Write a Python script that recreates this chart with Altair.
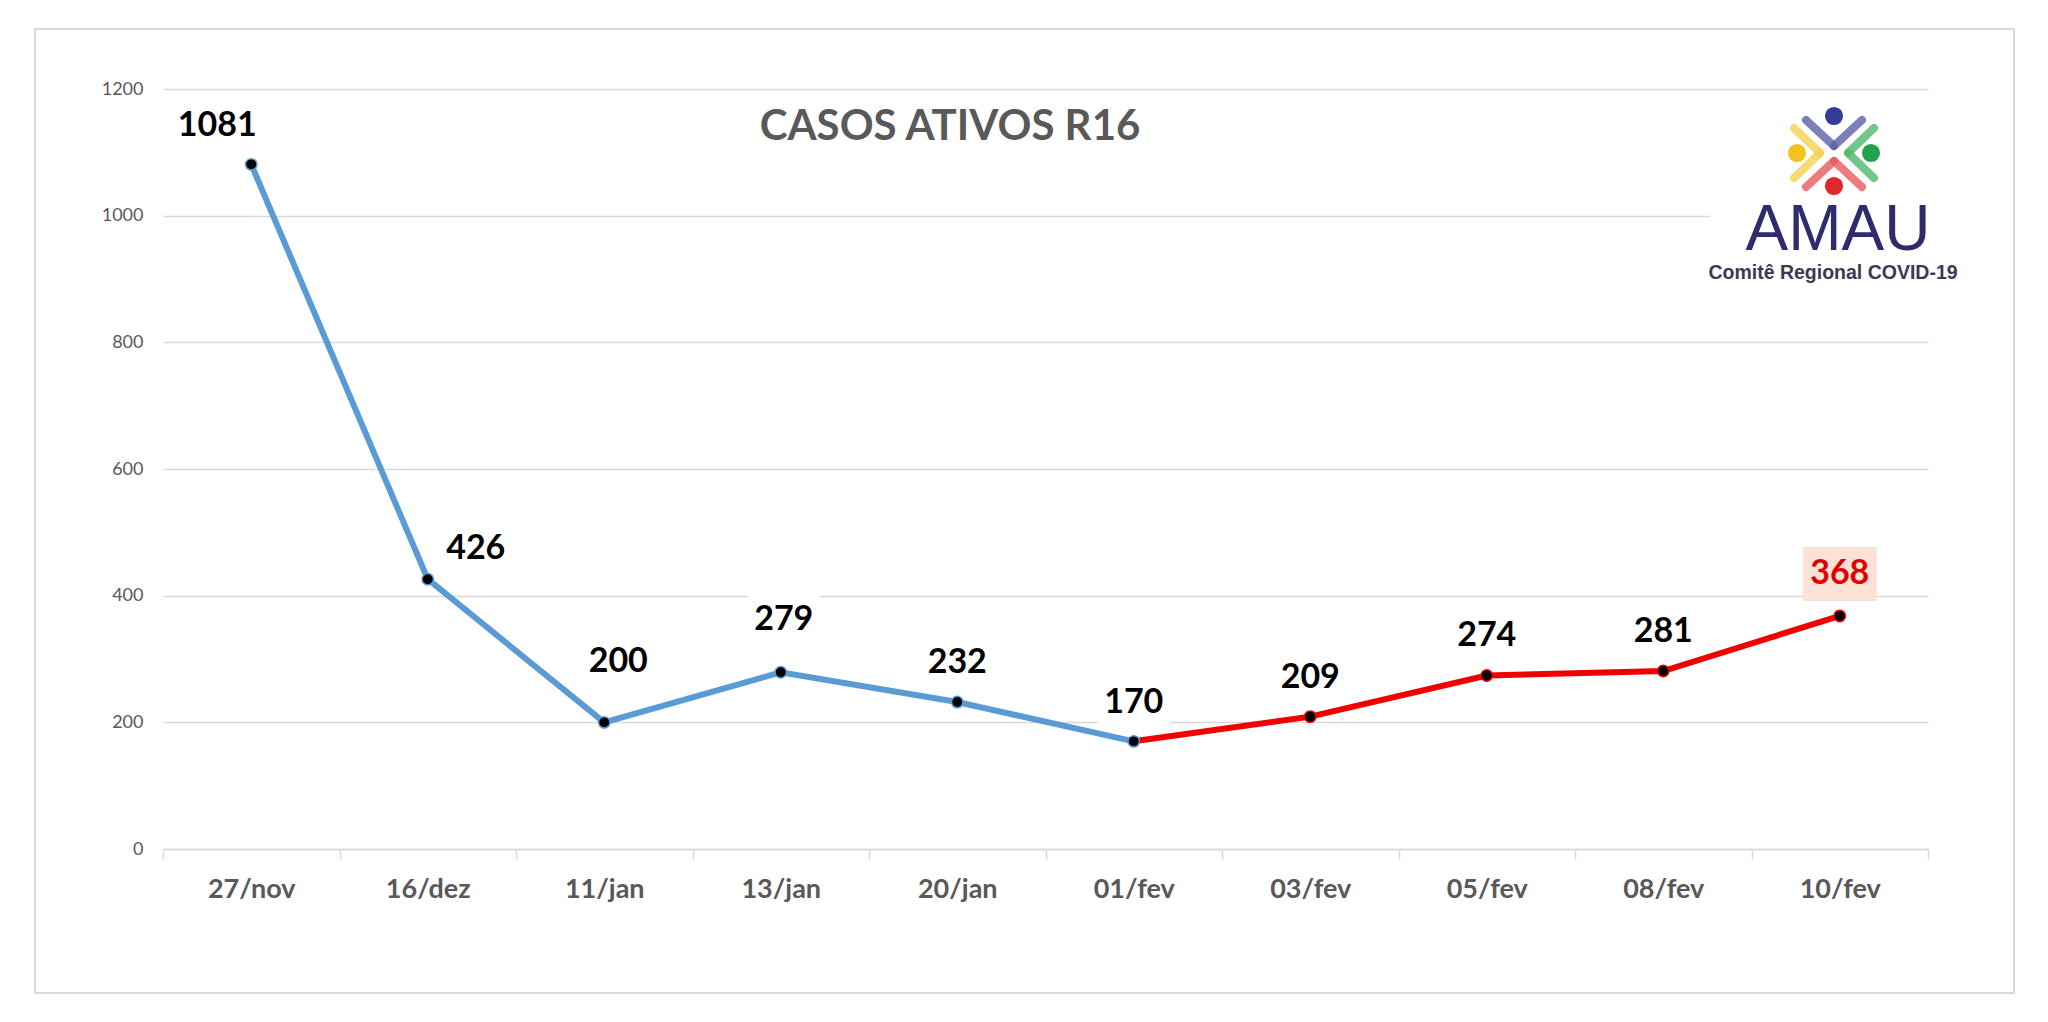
import altair as alt
import pandas as pd

# ---- data ----
dates = ["27/nov", "16/dez", "11/jan", "13/jan", "20/jan",
         "01/fev", "03/fev", "05/fev", "08/fev", "10/fev"]
values = [1081, 426, 200, 279, 232, 170, 209, 274, 281, 368]
y_ticks = [0, 200, 400, 600, 800, 1000, 1200]

df = pd.DataFrame({"data": dates, "casos": values, "idx": list(range(len(dates)))})
split = 5  # 01/fev: blue up to here, red from here

GRAY = "#595959"
GRID = "#D9D9D9"
BLUE = "#5B9BD5"
RED = "#F00000"
FONT = "Lato"

W, H = 1765, 760
PAD_L, PAD_T = 163, 89

x_enc = alt.X(
    "data:N", sort=dates,
    scale=alt.Scale(type="band", domain=dates, paddingInner=0, paddingOuter=0),
    axis=alt.Axis(title=None, labelAngle=0, labelFont=FONT, labelFontSize=27,
                  labelFontWeight="bold", labelColor=GRAY, labelPadding=17,
                  domainColor=GRID, domainWidth=1.5, tickColor=GRID, tickWidth=1.5,
                  tickSize=10, tickBand="extent", grid=False),
)
y_enc = alt.Y(
    "casos:Q",
    scale=alt.Scale(domain=[0, 1200], nice=False, zero=True),
    axis=alt.Axis(title=None, values=y_ticks, format="d", domain=False, ticks=False,
                  labelFont=FONT, labelFontSize=18, labelColor=GRAY,
                  labelPadding=20, gridColor=GRID, gridWidth=1.5),
)

base = alt.Chart(df)

blue_df = df[df.idx <= split]
red_df = df[df.idx >= split]

blue_line = alt.Chart(blue_df).mark_line(color=BLUE, strokeWidth=6).encode(x=x_enc, y=y_enc)
red_line = alt.Chart(red_df).mark_line(color=RED, strokeWidth=6).encode(x=x_enc, y=y_enc)

blue_pts = alt.Chart(blue_df).mark_point(
    filled=True, fill="black", stroke=BLUE, strokeWidth=1.5, size=130, opacity=1
).encode(x=x_enc, y=y_enc)
red_pts = alt.Chart(df[df.idx > split]).mark_point(
    filled=True, fill="black", stroke=RED, strokeWidth=1.5, size=130, opacity=1
).encode(x=x_enc, y=y_enc)


def box_path(dx, dy, w, h, s=37.0):
    return (f"M{(dx - w) / s:.4f},{(dy - h) / s:.4f}"
            f"L{(dx + w) / s:.4f},{(dy - h) / s:.4f}"
            f"L{(dx + w) / s:.4f},{(dy + h) / s:.4f}"
            f"L{(dx - w) / s:.4f},{(dy + h) / s:.4f}Z")


def labels(idx_list, dx, dy, color="black", box="white", w=36, h=26):
    sel = base.transform_filter(alt.FieldOneOfPredicate(field="idx", oneOf=idx_list))
    bx = sel.mark_point(shape=box_path(dx, dy, w, h), size=4 * 37 * 37, filled=True,
                        fill=box, strokeWidth=0, opacity=1).encode(x=x_enc, y=y_enc)
    tx = sel.mark_text(font=FONT, fontSize=34, fontWeight="bold", color=color,
                       dx=dx, dy=dy, baseline="middle", align="center").encode(
        x=x_enc, y=y_enc, text="casos:Q")
    return bx, tx


label_specs = [
    ([0], -34, -38, "black", "white", 44),
    ([1], 48, -30, "black", "white", 36),
    ([2], 14, -60, "black", "white", 36),
    ([3], 3, -52, "black", "white", 36),
    ([4, 6, 7, 8], 0, -39, "black", "white", 36),
    ([5], 0, -38, "black", "white", 36),
    ([9], 0, -42, "#E00000", "#FBE2D5", 37),
]
boxes, texts = [], []
for ids, dx, dy, col, bcol, w in label_specs:
    b, t = labels(ids, dx, dy, col, bcol, w, 26 if bcol == "white" else 27)
    boxes.append(b)
    texts.append(t)

one = alt.Data(values=[{"k": 1}])

border = alt.Chart(one).mark_rect(filled=False, stroke=GRID, strokeWidth=2).encode(
    x=alt.value(35 - PAD_L), x2=alt.value(2014 - PAD_L),
    y=alt.value(29 - PAD_T), y2=alt.value(993 - PAD_T))

title = alt.Chart(one).mark_text(
    text="CASOS ATIVOS R16", font=FONT, fontSize=42, fontWeight="bold", color=GRAY,
    align="center", baseline="middle").encode(x=alt.value(950 - PAD_L), y=alt.value(127 - PAD_T))

# ---- logo (decoration) ----
logo_bg = alt.Chart(one).mark_rect(fill="white", stroke="white").encode(
    x=alt.value(1711 - PAD_L), x2=alt.value(1959 - PAD_L),
    y=alt.value(93 - PAD_T), y2=alt.value(290 - PAD_T))

chevrons = [
    ("#5E5FA8", [(1806, 120, 1834, 146), (1834, 146, 1862, 120)]),
    ("#F3D250", [(1794, 128, 1820, 153), (1820, 153, 1794, 178)]),
    ("#4DB86C", [(1874, 128, 1848, 153), (1848, 153, 1874, 178)]),
    ("#E85A5C", [(1806, 187, 1834, 161), (1834, 161, 1862, 187)]),
]
logo_layers = [logo_bg]
for col, segs in chevrons:
    for (x1, y1, x2, y2) in segs:
        logo_layers.append(alt.Chart(one).mark_rule(
            color=col, strokeWidth=8, opacity=0.8, strokeCap="round").encode(
            x=alt.value(x1 - PAD_L), y=alt.value(y1 - PAD_T),
            x2=alt.value(x2 - PAD_L), y2=alt.value(y2 - PAD_T)))
dots = [("#363A9A", 1834, 116), ("#F4C21E", 1797, 153), ("#1FA34D", 1871, 153), ("#E2262B", 1834, 186)]
for col, cx, cy in dots:
    logo_layers.append(alt.Chart(one).mark_point(
        filled=True, fill=col, size=330, opacity=1, strokeWidth=0).encode(
        x=alt.value(cx - PAD_L), y=alt.value(cy - PAD_T)))
logo_layers.append(alt.Chart(one).mark_text(
    text="AMAU", font="Liberation Sans", fontSize=64, color="#2E2B6E",
    align="center", baseline="middle").encode(x=alt.value(1838 - PAD_L), y=alt.value(231 - PAD_T)))
logo_layers.append(alt.Chart(one).mark_text(
    text="Comitê Regional COVID-19", font="Liberation Sans", fontSize=19.5, fontWeight="bold",
    color="#3A3A50", align="center", baseline="middle").encode(
    x=alt.value(1833 - PAD_L), y=alt.value(273 - PAD_T)))

chart = alt.layer(
    border, *logo_layers, title, *boxes, blue_line, red_line, blue_pts, red_pts, *texts
).properties(
    width=W, height=H,
    autosize=alt.AutoSizeParams(type="none"),
    padding={"left": PAD_L, "top": PAD_T, "right": 2048 - PAD_L - W, "bottom": 1022 - PAD_T - H},
    background="white",
).configure_view(strokeWidth=0)

chart.save("out.html", embed_options={"renderer": "svg", "actions": False})
